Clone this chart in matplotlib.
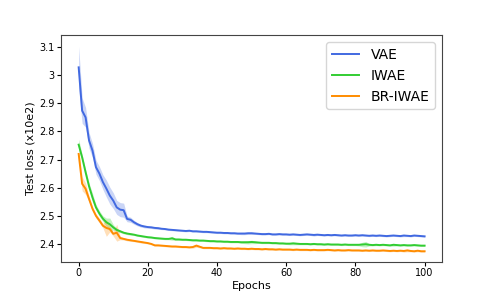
import matplotlib
matplotlib.use("Agg")
import matplotlib.pyplot as plt
import numpy as np
from matplotlib.ticker import FuncFormatter

epochs = list(range(101))

vae_mean = [
    3.028, 2.874, 2.850, 2.768, 2.732, 2.673, 2.650, 2.620, 2.597, 2.572,
    2.554, 2.530, 2.522, 2.520, 2.489, 2.486, 2.477, 2.470, 2.465, 2.462,
    2.460, 2.459, 2.457, 2.456, 2.454, 2.453, 2.451, 2.450, 2.449, 2.448,
    2.447, 2.446, 2.447, 2.445, 2.445, 2.444, 2.443, 2.443, 2.442, 2.441,
    2.440, 2.440, 2.439, 2.439, 2.438, 2.438, 2.437, 2.437, 2.437, 2.438,
    2.438, 2.437, 2.436, 2.435, 2.435, 2.436, 2.434, 2.434, 2.435, 2.434,
    2.434, 2.433, 2.434, 2.433, 2.432, 2.433, 2.434, 2.433, 2.432, 2.433,
    2.432, 2.431, 2.432, 2.431, 2.432, 2.431, 2.430, 2.431, 2.430, 2.430,
    2.431, 2.430, 2.431, 2.430, 2.429, 2.430, 2.429, 2.430, 2.429, 2.428,
    2.429, 2.430, 2.429, 2.428, 2.430, 2.429, 2.428, 2.430, 2.429, 2.428,
    2.427,
]
vae_std = [
    0.075, 0.045, 0.035, 0.028, 0.025, 0.025, 0.025, 0.026, 0.030, 0.030,
    0.028, 0.025, 0.025, 0.025, 0.010, 0.009, 0.007, 0.006, 0.005, 0.005,
    0.004, 0.004, 0.004, 0.004, 0.003, 0.003, 0.003, 0.003, 0.003, 0.003,
    0.003, 0.003, 0.003, 0.003, 0.003, 0.003, 0.003, 0.003, 0.003, 0.003,
    0.003, 0.003, 0.003, 0.003, 0.003, 0.003, 0.003, 0.004, 0.004, 0.004,
    0.004, 0.003, 0.003, 0.003, 0.003, 0.003, 0.003, 0.003, 0.003, 0.003,
    0.003, 0.003, 0.003, 0.003, 0.003, 0.003, 0.003, 0.003, 0.004, 0.003,
    0.003, 0.003, 0.003, 0.003, 0.003, 0.003, 0.003, 0.003, 0.003, 0.003,
    0.003, 0.003, 0.003, 0.003, 0.003, 0.003, 0.003, 0.003, 0.003, 0.003,
    0.003, 0.003, 0.003, 0.003, 0.004, 0.003, 0.003, 0.003, 0.003, 0.003,
    0.003,
]

iwae_mean = [
    2.753, 2.708, 2.655, 2.605, 2.565, 2.530, 2.508, 2.490, 2.477, 2.470,
    2.459, 2.450, 2.445, 2.440, 2.437, 2.435, 2.433, 2.430, 2.428, 2.426,
    2.424, 2.423, 2.421, 2.420, 2.419, 2.418, 2.418, 2.420, 2.416, 2.416,
    2.415, 2.415, 2.414, 2.413, 2.413, 2.412, 2.412, 2.411, 2.410, 2.410,
    2.409, 2.409, 2.408, 2.408, 2.407, 2.407, 2.407, 2.406, 2.406, 2.406,
    2.407, 2.406, 2.405, 2.404, 2.404, 2.404, 2.403, 2.403, 2.402, 2.402,
    2.401, 2.401, 2.402, 2.401, 2.400, 2.400, 2.400, 2.399, 2.400, 2.399,
    2.399, 2.398, 2.399, 2.398, 2.398, 2.398, 2.397, 2.398, 2.397, 2.397,
    2.397, 2.397, 2.398, 2.399, 2.397, 2.396, 2.397, 2.396, 2.397, 2.396,
    2.395, 2.397, 2.396, 2.395, 2.396, 2.395, 2.395, 2.396, 2.395, 2.394,
    2.394,
]
iwae_std = [
    0.020, 0.010, 0.010, 0.012, 0.015, 0.010, 0.010, 0.010, 0.015, 0.022,
    0.010, 0.006, 0.005, 0.004, 0.004, 0.004, 0.003, 0.003, 0.003, 0.003,
    0.003, 0.003, 0.003, 0.003, 0.003, 0.003, 0.003, 0.007, 0.003, 0.003,
    0.003, 0.003, 0.003, 0.003, 0.003, 0.003, 0.003, 0.003, 0.003, 0.003,
    0.003, 0.003, 0.003, 0.003, 0.003, 0.003, 0.003, 0.004, 0.005, 0.006,
    0.006, 0.005, 0.003, 0.003, 0.003, 0.003, 0.003, 0.003, 0.003, 0.003,
    0.003, 0.004, 0.005, 0.004, 0.003, 0.003, 0.003, 0.003, 0.003, 0.003,
    0.003, 0.003, 0.003, 0.003, 0.003, 0.003, 0.003, 0.003, 0.003, 0.003,
    0.003, 0.004, 0.008, 0.010, 0.004, 0.003, 0.003, 0.003, 0.003, 0.003,
    0.003, 0.005, 0.003, 0.003, 0.003, 0.003, 0.003, 0.003, 0.003, 0.003,
    0.003,
]

briwae_mean = [
    2.720, 2.614, 2.596, 2.560, 2.525, 2.500, 2.483, 2.465, 2.457, 2.453,
    2.436, 2.440, 2.421, 2.418, 2.415, 2.413, 2.411, 2.409, 2.407, 2.405,
    2.403, 2.400, 2.395, 2.395, 2.394, 2.393, 2.392, 2.391, 2.391, 2.390,
    2.389, 2.389, 2.388, 2.389, 2.394, 2.390, 2.386, 2.386, 2.386, 2.385,
    2.385, 2.384, 2.385, 2.384, 2.384, 2.383, 2.384, 2.383, 2.383, 2.382,
    2.383, 2.382, 2.382, 2.381, 2.382, 2.381, 2.381, 2.380, 2.381, 2.380,
    2.380, 2.380, 2.379, 2.380, 2.379, 2.379, 2.379, 2.378, 2.379, 2.378,
    2.378, 2.378, 2.379, 2.378, 2.377, 2.378, 2.377, 2.377, 2.378, 2.377,
    2.377, 2.377, 2.376, 2.377, 2.376, 2.377, 2.376, 2.376, 2.377, 2.376,
    2.375, 2.376, 2.375, 2.376, 2.375, 2.377, 2.375, 2.374, 2.376, 2.374,
    2.374,
]
briwae_std = [
    0.015, 0.025, 0.020, 0.010, 0.008, 0.008, 0.008, 0.008, 0.030, 0.010,
    0.008, 0.030, 0.006, 0.004, 0.004, 0.004, 0.003, 0.003, 0.004, 0.003,
    0.003, 0.003, 0.003, 0.003, 0.003, 0.003, 0.003, 0.003, 0.003, 0.003,
    0.003, 0.003, 0.003, 0.004, 0.006, 0.004, 0.003, 0.003, 0.003, 0.003,
    0.003, 0.003, 0.003, 0.003, 0.003, 0.003, 0.003, 0.003, 0.003, 0.003,
    0.003, 0.003, 0.003, 0.003, 0.003, 0.003, 0.003, 0.003, 0.003, 0.003,
    0.003, 0.003, 0.003, 0.003, 0.003, 0.003, 0.003, 0.003, 0.003, 0.003,
    0.003, 0.003, 0.003, 0.003, 0.003, 0.003, 0.003, 0.003, 0.003, 0.003,
    0.003, 0.003, 0.003, 0.003, 0.003, 0.003, 0.003, 0.003, 0.003, 0.003,
    0.003, 0.003, 0.003, 0.003, 0.004, 0.005, 0.003, 0.003, 0.004, 0.003,
    0.003,
]

series = [
    ("VAE", vae_mean, vae_std, "royalblue"),
    ("IWAE", iwae_mean, iwae_std, "limegreen"),
    ("BR-IWAE", briwae_mean, briwae_std, "darkorange"),
]

fig = plt.figure(figsize=(4.91, 2.94), dpi=100)
ax = fig.add_subplot(111)
x = np.array(epochs)
for name, m, s, c in series:
    m = np.array(m)
    s = np.array(s)
    ax.fill_between(x, m - s, m + s, color=c, alpha=0.28, linewidth=0)
    ax.plot(x, m, color=c, lw=1.4, label=name)

ax.set_ylim(2.337, 3.142)
ax.set_yticks([2.4, 2.5, 2.6, 2.7, 2.8, 2.9, 3.0, 3.1])
ax.yaxis.set_major_formatter(FuncFormatter(lambda v, p: f"{v:g}"))
ax.set_xticks([0, 20, 40, 60, 80, 100])
ax.tick_params(labelsize=7, width=0.8, length=3, pad=1.8)
ax.set_xlabel("Epochs", fontsize=8, labelpad=2)
ax.set_ylabel("Test loss (x10e2)", fontsize=8, labelpad=2.5)
ax.legend(loc="upper right", fontsize=10, handlelength=2)
for sp in ax.spines.values():
    sp.set_linewidth(0.8)
    sp.set_color("#444444")
fig.savefig("out.png", dpi=100)
